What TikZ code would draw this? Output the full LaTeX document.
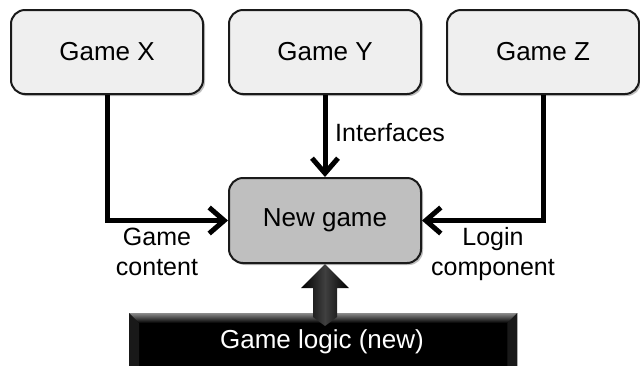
\documentclass[tikz,border=0pt]{standalone}
\usepackage{fontspec}
\setmainfont{Liberation Sans}
\usetikzlibrary{arrows.meta,shadows,calc}
\definecolor{boxgray}{HTML}{EFEFEF}
\definecolor{newgray}{HTML}{BFBFBF}
\definecolor{edge}{HTML}{1A1A1A}
\tikzset{
  gamebox/.style={draw=edge, line width=2pt, rounded corners=14pt, fill=boxgray,
    minimum width=192pt, minimum height=84pt, inner sep=0pt,
    font=\fontsize{26}{30}\selectfont,
    drop shadow={shadow xshift=2pt, shadow yshift=-2pt, opacity=0.25, fill=black}},
  newbox/.style={gamebox, fill=newgray, minimum height=85pt},
  flow/.style={line width=5pt, -{Straight Barb[length=15pt,width=26pt,line width=5pt]}},
  lbl/.style={font=\fontsize{25}{30}\selectfont, align=center, inner sep=0pt},
}
\begin{document}
\begin{tikzpicture}[x=1pt,y=-1pt]
\useasboundingbox (0,0) rectangle (640,365);
% boxes
\node[gamebox] (gx) at (107,52) {Game X};
\node[gamebox] (gy) at (325,52) {Game Y};
\node[gamebox] (gz) at (543,52) {Game Z};
\node[newbox]  (ng) at (325,220.5) {New game};
% connectors
\draw[flow] (gx.south) |- (ng.west);
\draw[flow] (gz.south) |- (ng.east);
\draw[flow] (gy.south) -- (ng.north);
% labels
\node[lbl, anchor=base west] (lif) at (335,141) {Interfaces};
\node[lbl, anchor=base] (lgc) at (157,275) {Game\\content};
\node[lbl, anchor=base] (llc) at (493,275) {Login\\component};
% bar
\node[fill=black, minimum width=388pt, minimum height=56pt, inner sep=0pt,
      anchor=north west] (bar) at (129,313) {};
\shade[top color=black!45, bottom color=black] (bar.north west) -- (bar.north east) -- ++(-10,10) -- ($(bar.north west)+(10,10)$) -- cycle;
\fill[black!90] (bar.north west) -- ++(10,10) -- ($(bar.south west)+(10,0)$) -- (bar.south west) -- cycle;
\fill[black!90] (bar.north east) -- ++(-10,10) -- ($(bar.south east)+(-10,0)$) -- (bar.south east) -- cycle;
\node[text=white, font=\fontsize{26}{30}\selectfont, inner sep=0pt, anchor=base] (btx) at (322,348) {Game logic (new)};
% block arrow from bar to new game
\shade[left color=black, right color=black, middle color=black!75]
  (ng.south) -- ++(24,24) -- ++(-12,0) -- ++(0,29) -- ++(-12,9) -- ++(-12,-9) -- ++(0,-29) -- ++(-12,0) -- cycle;
\end{tikzpicture}
\end{document}
